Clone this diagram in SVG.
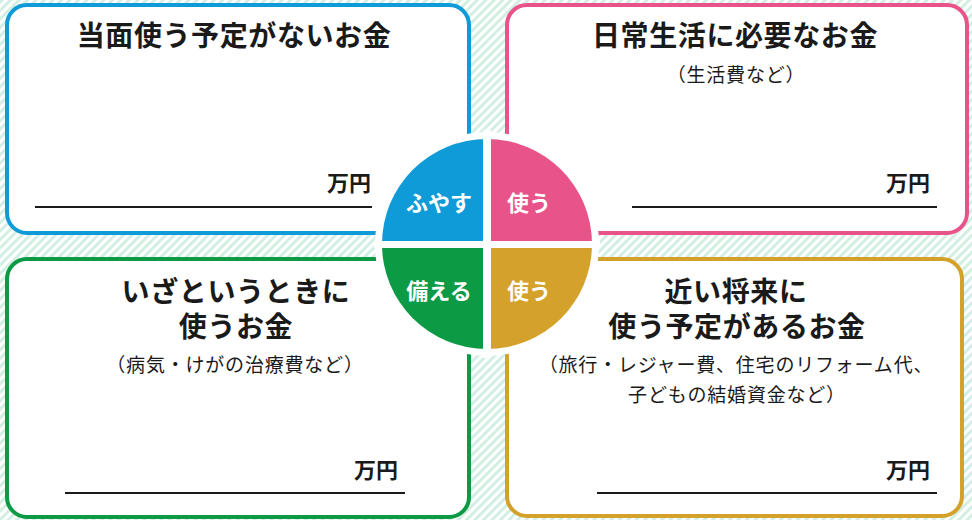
<svg xmlns="http://www.w3.org/2000/svg" width="972" height="520" viewBox="0 0 972 520">
<defs>
<pattern id="stripes" width="6" height="6" patternUnits="userSpaceOnUse" patternTransform="rotate(45)">
<rect width="6" height="6" fill="#ffffff"/>
<rect width="3" height="6" fill="#d3efe3"/>
</pattern>
</defs>
<style>
.box{fill:#ffffff;stroke-width:4}
.t{font-family:"Noto Sans CJK JP","Noto Sans",sans-serif;fill:#1a1a1a;text-anchor:middle}
.h{font-size:28px;font-weight:bold;letter-spacing:0.6px}
.s{font-size:19px;letter-spacing:0.8px}
.u{font-size:22px;font-weight:bold;text-anchor:end}
.q{font-family:"Noto Sans CJK JP","Noto Sans",sans-serif;font-size:22px;font-weight:bold;fill:#ffffff;text-anchor:middle}
.line{stroke:#1a1a1a;stroke-width:2}
</style>
<rect width="972" height="520" fill="url(#stripes)"/>

<g id="node-tl">
<rect class="box" x="7" y="5" width="462" height="228" rx="20" stroke="#0f9bd7"/>
<text class="t h" x="234" y="46">当面使う予定がないお金</text>
<text class="t u" x="371" y="191">万円</text>
<line class="line" x1="35" y1="207" x2="372" y2="207"/>
</g>

<g id="node-tr">
<rect class="box" x="507" y="5" width="460" height="228" rx="20" stroke="#e8538a"/>
<text class="t h" x="735" y="46">日常生活に必要なお金</text>
<text class="t s" x="736" y="82">（生活費など）</text>
<text class="t u" x="930" y="191">万円</text>
<line class="line" x1="632" y1="207" x2="937" y2="207"/>
</g>

<g id="node-bl">
<rect class="box" x="7" y="259" width="462" height="258" rx="20" stroke="#0d9a45"/>
<text class="t h" x="236" y="302">いざというときに</text>
<text class="t h" x="236" y="337">使うお金</text>
<text class="t s" x="235" y="372">（病気・けがの治療費など）</text>
<text class="t u" x="398" y="478">万円</text>
<line class="line" x1="65" y1="493" x2="405" y2="493"/>
</g>

<g id="node-br">
<rect class="box" x="507" y="259" width="455" height="257" rx="20" stroke="#d4a12b"/>
<text class="t h" x="736" y="302">近い将来に</text>
<text class="t h" x="737" y="337">使う予定があるお金</text>
<text class="t s" x="736" y="372">（旅行・レジャー費、住宅のリフォーム代、</text>
<text class="t s" x="737" y="402">子どもの結婚資金など）</text>
<text class="t u" x="930" y="478">万円</text>
<line class="line" x1="597" y1="493" x2="937" y2="493"/>
</g>

<g id="node-circle">
<circle cx="487" cy="244" r="112" fill="#ffffff"/>
<path d="M487 244 L382 244 A105 105 0 0 1 487 139 Z" fill="#0f9bd7"/>
<path d="M487 244 L487 139 A105 105 0 0 1 592 244 Z" fill="#e8538a"/>
<path d="M487 244 L382 244 A105 105 0 0 0 487 349 Z" fill="#0d9a45"/>
<path d="M487 244 L487 349 A105 105 0 0 0 592 244 Z" fill="#d4a12b"/>
<line x1="487" y1="130" x2="487" y2="358" stroke="#ffffff" stroke-width="8"/>
<line x1="374" y1="244.5" x2="600" y2="244.5" stroke="#ffffff" stroke-width="7"/>
<text class="q" x="439" y="211">ふやす</text>
<text class="q" x="529" y="211">使う</text>
<text class="q" x="439" y="299">備える</text>
<text class="q" x="529" y="299">使う</text>
</g>
<g id="connectors"/>
</svg>
